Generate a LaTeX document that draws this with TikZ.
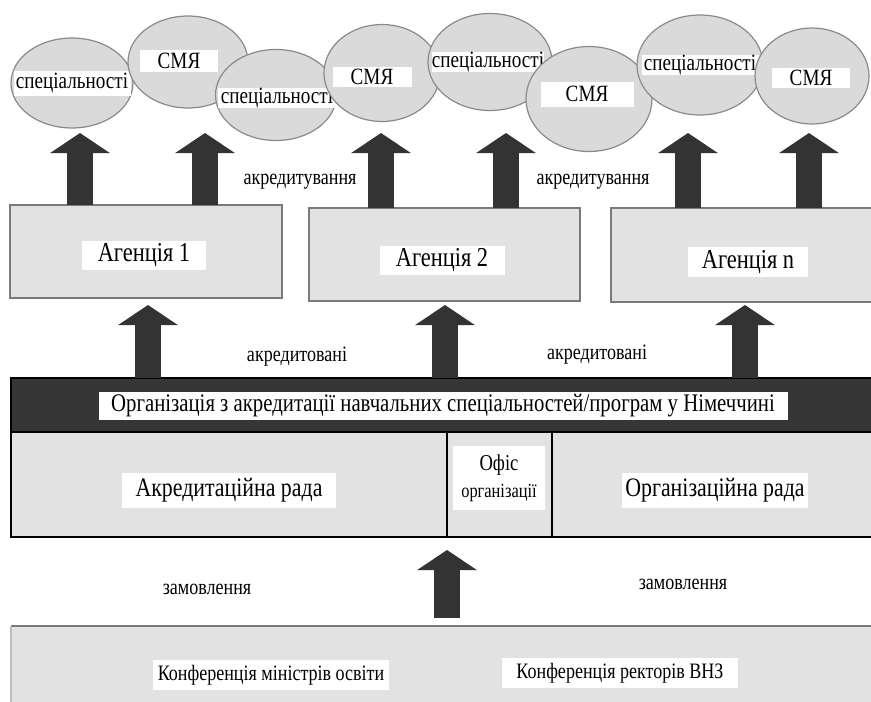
\documentclass[tikz,border=0pt]{standalone}
\usepackage{fontspec}
\setmainfont[FakeStretch=0.82]{Liberation Serif}
\usetikzlibrary{arrows.meta,shapes.geometric}
\newcommand{\myfs}[1]{\fontsize{#1pt}{#1pt}\selectfont}
\definecolor{ellfill}{HTML}{DADADA}
\definecolor{ellgray}{HTML}{8A8A8A}
\definecolor{boxfill}{HTML}{E2E2E2}
\definecolor{boxedge}{HTML}{7A7A7A}
\definecolor{darkbar}{HTML}{363636}
\definecolor{arrowc}{HTML}{333333}
\begin{document}
\begin{tikzpicture}[x=0.75pt,y=-0.75pt,
  every node/.style={inner sep=0pt, outer sep=0pt},
  ell/.style 2 args={ellipse, draw=ellgray, line width=0.9pt, fill=ellfill,
    minimum width=#1*0.75pt, minimum height=#2*0.75pt},
  lbl/.style 2 args={fill=white, minimum width=#1*0.75pt, minimum height=#2*0.75pt, align=center},
  agbox/.style 2 args={rectangle, draw=boxedge, line width=1.4pt, fill=boxfill,
    minimum width=#1*0.75pt, minimum height=#2*0.75pt},
  orgbox/.style 2 args={rectangle, draw=black, line width=1.8pt, fill=boxfill,
    minimum width=#1*0.75pt, minimum height=#2*0.75pt},
  blockarr/.style={draw=arrowc, line width=20pt,
    -{Triangle[length=15pt, width=44pt, fill=arrowc]}},
  elltext/.style={font=\myfs{17.5}},
  smalltext/.style={font=\myfs{16.5}},
  agtext/.style={font=\myfs{20.5}},
]
\useasboundingbox (0,0) rectangle (871,701);

% ---- ellipses (accredited programmes / QA systems)
\node[ell={122}{90}] (e1) at (72,83) {};
\node[lbl={117}{25}, elltext] (l1) at (72,83) {спеціальності};
\node[ell={120}{92}] (e2) at (188,62) {};
\node[lbl={78}{22}, elltext] (l2) at (179,61) {СМЯ};
\node[ell={121}{91}] (e3) at (276,95) {};
\node[lbl={118}{20}, elltext] (l3) at (277,98) {спеціальності};
\node[ell={116}{97}] (e4) at (382,73) {};
\node[lbl={79}{20}, elltext] (l4) at (372,77) {СМЯ};
\node[ell={124}{97}] (e5) at (490,62) {};
\node[lbl={112}{20}, elltext] (l5) at (488,62) {спеціальності};
\node[ell={126}{105}] (e6) at (589,99) {};
\node[lbl={93}{25}, elltext] (l6) at (587,94) {СМЯ};
\node[ell={126}{100}] (e7) at (700,65) {};
\node[lbl={117}{20}, elltext] (l7) at (700,65) {спеціальності};
\node[ell={114}{96}] (e8) at (812,76) {};
\node[lbl={78}{20}, elltext] (l8) at (811,78) {СМЯ};

% ---- agencies
\node[agbox={272}{93}] (a1) at (146,251.5) {};
\node[agbox={271}{93}] (a2) at (444.5,254.5) {};
\node[agbox={290}{94}] (a3) at (756,255) {};
\node[lbl={124}{29}, agtext] (la1) at (144,255.5) {Агенція 1};
\node[lbl={125}{29}, agtext] (la2) at (442,260) {Агенція 2};
\node[lbl={120}{30}, agtext] (la3) at (748,262) {Агенція n};

% ---- accreditation arrows (agencies -> programmes)
\coordinate (t1) at (80,133);
\coordinate (t2) at (205,133);
\coordinate (t3) at (381,133);
\coordinate (t4) at (506,133);
\coordinate (t5) at (688,133);
\coordinate (t6) at (809,133);
\draw[blockarr] (t1 |- a1.north) -- (t1);
\draw[blockarr] (t2 |- a1.north) -- (t2);
\draw[blockarr] (t3 |- a2.north) -- (t3);
\draw[blockarr] (t4 |- a2.north) -- (t4);
\draw[blockarr] (t5 |- a3.north) -- (t5);
\draw[blockarr] (t6 |- a3.north) -- (t6);
\node[smalltext] (k1) at (300,182) {акредитування};
\node[smalltext] (k2) at (593,182) {акредитування};

% ---- organisation block
\node[orgbox={436}{105}] (c1) at (229,484.5) {};
\node[orgbox={105}{105}] (c2) at (499.5,484.5) {};
\node[orgbox={350}{105}] (c3) at (727,484.5) {};
\node[rectangle, fill=darkbar, draw=black, line width=1.8pt,
  minimum width=890*0.75pt, minimum height=54*0.75pt] (db) at (456,405) {};
\node[lbl={689}{28}, font=\myfs{19}] (ldb) at (443,406)
  {Організація з акредитації навчальних спеціальностей/програм у Німеччині};
\node[lbl={214}{35}, font=\myfs{20}] (lc1) at (229,490) {Акредитаційна рада};
\node[lbl={92}{64}, font=\myfs{15}] (lc2) at (499,478)
  {{\myfs{17}Офіс}\\[5pt]організації};
\node[lbl={186}{35}, font=\myfs{20}] (lc3) at (715,490) {Організаційна рада};

% ---- accredited arrows (organisation -> agencies)
\coordinate (m1) at (148,305);
\coordinate (m2) at (445,305);
\coordinate (m3) at (745,305);
\draw[blockarr] (m1 |- db.north) -- (m1);
\draw[blockarr] (m2 |- db.north) -- (m2);
\draw[blockarr] (m3 |- db.north) -- (m3);
\node[smalltext] (r1) at (297,357) {акредитовані};
\node[smalltext] (r2) at (597,355) {акредитовані};

% ---- conferences
\node[rectangle, fill=boxfill, minimum width=890*0.75pt, minimum height=80*0.75pt] (bb) at (456,666) {};
\draw[draw=boxedge, line width=1.2pt] (bb.north west) -- (bb.north east);
\draw[draw=boxedge!50, line width=0.8pt] (bb.north west) -- (bb.south west);
\node[lbl={236}{30}, font=\myfs{16.5}] (lb1) at (271,675) {Конференція міністрів освіти};
\node[lbl={236}{30}, font=\myfs{16.5}] (lb2) at (620,673) {Конференція ректорів ВНЗ};

\coordinate (b1) at (447,550);
\draw[blockarr] ([yshift=6pt]b1 |- bb.north) -- (b1);
\node[smalltext] (z1) at (207,589) {замовлення};
\node[smalltext] (z2) at (683,584) {замовлення};
\end{tikzpicture}
\end{document}
